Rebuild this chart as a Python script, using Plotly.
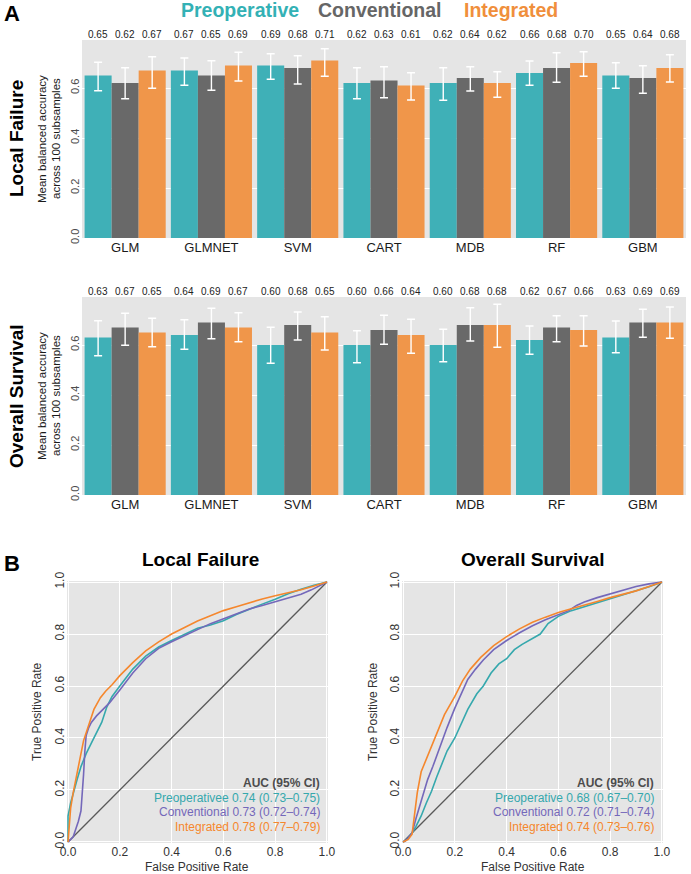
import plotly.graph_objects as go

W, H = 691, 874
FONT = 'Liberation Sans, Arial, Helvetica, sans-serif'

models = ['GLM', 'GLMNET', 'SVM', 'CART', 'MDB', 'RF', 'GBM']
groups = ['Preoperative', 'Conventional', 'Integrated']

# panel A - local failure: mean balanced accuracy and 95% interval
lf_preop = [0.65, 0.67, 0.69, 0.62, 0.62, 0.66, 0.65]
lf_conv = [0.62, 0.65, 0.68, 0.63, 0.64, 0.68, 0.64]
lf_integ = [0.67, 0.69, 0.71, 0.61, 0.62, 0.70, 0.68]
lf_preop_hi = [0.703, 0.720, 0.737, 0.681, 0.681, 0.708, 0.701]
lf_preop_lo = [0.589, 0.611, 0.635, 0.557, 0.551, 0.611, 0.599]
lf_conv_hi = [0.681, 0.709, 0.729, 0.685, 0.685, 0.741, 0.689]
lf_conv_lo = [0.557, 0.591, 0.616, 0.561, 0.588, 0.623, 0.579]
lf_integ_hi = [0.725, 0.743, 0.757, 0.661, 0.665, 0.745, 0.733]
lf_integ_lo = [0.599, 0.628, 0.647, 0.552, 0.563, 0.647, 0.624]

# panel A - overall survival
os_preop = [0.63, 0.64, 0.60, 0.60, 0.60, 0.62, 0.63]
os_conv = [0.67, 0.69, 0.68, 0.66, 0.68, 0.67, 0.69]
os_integ = [0.65, 0.67, 0.65, 0.64, 0.68, 0.66, 0.69]
os_preop_hi = [0.697, 0.701, 0.671, 0.657, 0.663, 0.676, 0.696]
os_preop_lo = [0.557, 0.583, 0.527, 0.529, 0.533, 0.563, 0.569]
os_conv_hi = [0.727, 0.747, 0.732, 0.719, 0.749, 0.717, 0.743]
os_conv_lo = [0.599, 0.625, 0.620, 0.603, 0.616, 0.613, 0.631]
os_integ_hi = [0.707, 0.729, 0.713, 0.703, 0.763, 0.717, 0.752]
os_integ_lo = [0.593, 0.613, 0.580, 0.567, 0.591, 0.596, 0.627]

# panel B - ROC curves
lf_preop_fpr = [0, 0, 0.01, 0.02, 0.035, 0.05, 0.07, 0.09, 0.11, 0.13, 0.15, 0.17, 0.2, 0.25, 0.3, 0.35,
                0.4, 0.45, 0.5, 0.55, 0.6, 0.65, 0.7, 0.75, 0.8, 0.85, 0.9, 0.95, 1]
lf_preop_tpr = [0, 0.1, 0.15, 0.19, 0.24, 0.29, 0.34, 0.38, 0.42, 0.46, 0.52, 0.56, 0.6, 0.665, 0.715, 0.75,
                0.775, 0.8, 0.822, 0.835, 0.851, 0.875, 0.896, 0.915, 0.934, 0.955, 0.972, 0.988, 1]
lf_conv_fpr = [0, 0.01, 0.02, 0.03, 0.04, 0.05, 0.055, 0.06, 0.065, 0.07, 0.08, 0.09, 0.11, 0.13, 0.16, 0.2,
               0.25, 0.3, 0.35, 0.4, 0.45, 0.5, 0.55, 0.6, 0.65, 0.7, 0.75, 0.8, 0.85, 0.9, 0.94, 0.97, 1]
lf_conv_tpr = [0, 0.01, 0.02, 0.05, 0.08, 0.12, 0.18, 0.26, 0.35, 0.41, 0.44, 0.46, 0.485, 0.505, 0.535, 0.585,
               0.65, 0.705, 0.745, 0.77, 0.795, 0.817, 0.84, 0.858, 0.878, 0.896, 0.91, 0.924, 0.94, 0.953, 0.97, 0.985, 1]
lf_integ_fpr = [0, 0.005, 0.01, 0.02, 0.03, 0.045, 0.06, 0.08, 0.1, 0.125, 0.145, 0.17, 0.2, 0.25, 0.3, 0.35,
                0.4, 0.45, 0.5, 0.55, 0.6, 0.65, 0.7, 0.75, 0.8, 0.85, 0.9, 0.95, 1]
lf_integ_tpr = [0, 0.08, 0.13, 0.19, 0.24, 0.32, 0.39, 0.45, 0.51, 0.555, 0.58, 0.605, 0.64, 0.69, 0.735, 0.77,
                0.8, 0.825, 0.85, 0.87, 0.89, 0.905, 0.92, 0.935, 0.947, 0.958, 0.97, 0.985, 1]

os_preop_fpr = [0, 0.01, 0.02, 0.037, 0.05, 0.07, 0.09, 0.11, 0.13, 0.15, 0.17, 0.2, 0.225, 0.25, 0.285, 0.31,
                0.34, 0.37, 0.4, 0.43, 0.46, 0.5, 0.53, 0.56, 0.6, 0.65, 0.7, 0.75, 0.8, 0.85, 0.9, 0.95, 1]
os_preop_tpr = [0, 0.005, 0.015, 0.037, 0.06, 0.1, 0.15, 0.195, 0.25, 0.3, 0.35, 0.4, 0.455, 0.51, 0.57, 0.6,
                0.65, 0.685, 0.705, 0.74, 0.76, 0.783, 0.8, 0.84, 0.868, 0.89, 0.905, 0.92, 0.935, 0.95, 0.965, 0.982, 1]
os_conv_fpr = [0, 0.01, 0.02, 0.035, 0.05, 0.065, 0.08, 0.095, 0.115, 0.135, 0.155, 0.17, 0.2, 0.225, 0.25, 0.28,
               0.31, 0.35, 0.4, 0.45, 0.5, 0.55, 0.6, 0.64, 0.67, 0.7, 0.75, 0.8, 0.85, 0.9, 0.95, 1]
os_conv_tpr = [0, 0.005, 0.015, 0.035, 0.09, 0.14, 0.19, 0.24, 0.29, 0.345, 0.4, 0.44, 0.515, 0.57, 0.625, 0.665,
               0.7, 0.74, 0.775, 0.805, 0.832, 0.855, 0.875, 0.89, 0.91, 0.923, 0.94, 0.955, 0.97, 0.983, 0.993, 1]
os_integ_fpr = [0, 0.01, 0.02, 0.035, 0.045, 0.055, 0.07, 0.09, 0.11, 0.13, 0.16, 0.2, 0.23, 0.26, 0.3, 0.35,
                0.4, 0.45, 0.5, 0.55, 0.6, 0.65, 0.7, 0.75, 0.8, 0.85, 0.9, 0.95, 1]
os_integ_tpr = [0, 0.005, 0.01, 0.03, 0.1, 0.19, 0.27, 0.32, 0.37, 0.42, 0.49, 0.56, 0.62, 0.665, 0.71, 0.755,
                0.79, 0.82, 0.845, 0.865, 0.883, 0.897, 0.91, 0.925, 0.94, 0.953, 0.966, 0.983, 1]

auc_lf = ['Preoperativee 0.74 (0.73\u20130.75)', 'Conventional 0.73 (0.72\u20130.74)', 'Integrated 0.78 (0.77\u20130.79)']
auc_os = ['Preoperative 0.68 (0.67\u20130.70)', 'Conventional 0.72 (0.71\u20130.74)', 'Integrated 0.74 (0.73\u20130.76)']

bar_colors = ['#3FB0B7', '#696969', '#F0964A']
head_colors = ['#33B1B5', '#666666', '#F08F3C']
roc_colors = ['#35A8AD', '#7468BA', '#F5872D']
BG = '#E5E5E5'


def px_x(p):
    return p / W


def px_y(p):
    return 1 - p / H


fig = go.Figure()

bar_sets = [
    ('x', 'y', [lf_preop, lf_conv, lf_integ], [lf_preop_hi, lf_conv_hi, lf_integ_hi], [lf_preop_lo, lf_conv_lo, lf_integ_lo]),
    ('x2', 'y2', [os_preop, os_conv, os_integ], [os_preop_hi, os_conv_hi, os_integ_hi], [os_preop_lo, os_conv_lo, os_integ_lo]),
]
for xa, ya, vals, his, los in bar_sets:
    for i, (v, hi, lo) in enumerate(zip(vals, his, los)):
        fig.add_trace(go.Bar(
            x=models, y=v, xaxis=xa, yaxis=ya, offsetgroup=str(i),
            marker=dict(color=bar_colors[i], line=dict(width=0)),
            error_y=dict(type='data', symmetric=False,
                         array=[h - a for h, a in zip(hi, v)],
                         arrayminus=[a - l for a, l in zip(v, lo)],
                         color='white', thickness=1.4, width=4),
            showlegend=False, hoverinfo='skip'))
        # value labels along the top of the panel
        for m, a in zip(models, v):
            fig.add_annotation(x=m, xref=xa, y=1, yref=f'{ya} domain', yanchor='bottom', yshift=-2,
                               xshift=(i - 1) * 27, text=f'{a:.2f}', showarrow=False,
                               font=dict(size=10, color='#222222'))

roc_sets = [
    ('x3', 'y3', [(lf_preop_fpr, lf_preop_tpr), (lf_conv_fpr, lf_conv_tpr), (lf_integ_fpr, lf_integ_tpr)]),
    ('x4', 'y4', [(os_preop_fpr, os_preop_tpr), (os_conv_fpr, os_conv_tpr), (os_integ_fpr, os_integ_tpr)]),
]
for xa, ya, curves in roc_sets:
    fig.add_trace(go.Scatter(x=[0, 1], y=[0, 1], xaxis=xa, yaxis=ya, mode='lines',
                             line=dict(color='#595959', width=1.3), showlegend=False, hoverinfo='skip'))
    for i, (fx, ty) in enumerate(curves):
        fig.add_trace(go.Scatter(x=fx, y=ty, xaxis=xa, yaxis=ya, mode='lines',
                                 line=dict(color=roc_colors[i], width=1.6), showlegend=False))

bar_x = dict(domain=[px_x(82), px_x(686)], showgrid=False, ticks='', showline=False, automargin=False,
             tickfont=dict(size=13, color='#1A1A1A'), fixedrange=True)
bar_y = dict(range=[0, 0.792], tickvals=[0, 0.2, 0.4, 0.6], ticktext=['0.0', '0.2', '0.4', '0.6'],
             tickangle=-90, tickfont=dict(size=11, color='#4D4D4D'), gridcolor='white', gridwidth=1.2,
             zeroline=False, ticks='', showline=False, automargin=False)
roc_ticks = [0, 0.2, 0.4, 0.6, 0.8, 1.0]
roc_lbl = ['0.0', '0.2', '0.4', '0.6', '0.8', '1.0']
roc_x = dict(range=[-0.004, 1.004], tickvals=roc_ticks, ticktext=roc_lbl, tickfont=dict(size=12, color='#333333'),
             gridcolor='white', gridwidth=1.3, zeroline=False, ticks='', showline=False, automargin=False)
roc_y = dict(range=[-0.004, 1.004], tickvals=roc_ticks, ticktext=roc_lbl, tickangle=-90,
             tickfont=dict(size=12, color='#333333'), gridcolor='white', gridwidth=1.3, zeroline=False,
             ticks='', showline=False, automargin=False)

fig.update_layout(
    width=W, height=H, margin=dict(l=0, r=0, t=0, b=0),
    paper_bgcolor='white', plot_bgcolor=BG,
    font=dict(family=FONT, color='#333333'),
    barmode='group', bargap=0.06, bargroupgap=0,
    xaxis=dict(bar_x, anchor='y'),
    yaxis=dict(bar_y, domain=[px_y(238), px_y(40)], anchor='x'),
    xaxis2=dict(bar_x, anchor='y2'),
    yaxis2=dict(bar_y, domain=[px_y(495), px_y(297)], anchor='x2'),
    xaxis3=dict(roc_x, domain=[px_x(67), px_x(328)], anchor='y3'),
    yaxis3=dict(roc_y, domain=[px_y(843), px_y(581)], anchor='x3'),
    xaxis4=dict(roc_x, domain=[px_x(402), px_x(663)], anchor='y4'),
    yaxis4=dict(roc_y, domain=[px_y(843), px_y(581)], anchor='x4'),
)


def note(text, x, y, size=12, color='#333333', bold=False, angle=0, xanchor='center'):
    if bold:
        text = f'<b>{text}</b>'
    fig.add_annotation(x=px_x(x), y=px_y(y), xref='paper', yref='paper', text=text, showarrow=False,
                       textangle=angle, xanchor=xanchor, yanchor='middle',
                       font=dict(size=size, color=color, family=FONT))


# header legend and panel letters
for g, c, cx in zip(groups, head_colors, [240, 380, 511]):
    note(g, cx, 10, size=19.5, color=c, bold=True)
note('A', 12, 13, size=22, color='black', bold=True)
note('B', 12, 563, size=22, color='black', bold=True)

# bar panel row labels and axis titles
note('Local Failure', 16, 139, size=19, color='black', bold=True, angle=-90)
note('Overall Survival', 16, 396, size=19, color='black', bold=True, angle=-90)
for cy in [139, 396]:
    note('Mean balanced accuracy', 42, cy, size=11.5, color='#1A1A1A', angle=-90)
    note('across 100 subsamples', 56, cy, size=11.5, color='#1A1A1A', angle=-90)

# ROC titles and axis labels
note('Local Failure', 200, 559, size=19, color='black', bold=True)
note('Overall Survival', 533, 559, size=19, color='black', bold=True)
for cx in [197, 533]:
    note('False Positive Rate', cx, 867, size=12, color='#333333')
for cx in [37, 373]:
    note('True Positive Rate', cx, 712, size=12, color='#333333', angle=-90)

# AUC legends
for right, lines in [(322, auc_lf), (656, auc_os)]:
    note('AUC (95% CI)', right, 783, size=12, color='#4D4D4D', bold=True, xanchor='right')
    for k, (t, c) in enumerate(zip(lines, roc_colors)):
        note(t, right, 797.5 + k * 14.5, size=12, color=c, xanchor='right')

# drop the default page margin so the figure sits at the window origin
fig.write_html('out.html', config={'displayModeBar': False},
               post_script="document.body.style.margin='0px';")
